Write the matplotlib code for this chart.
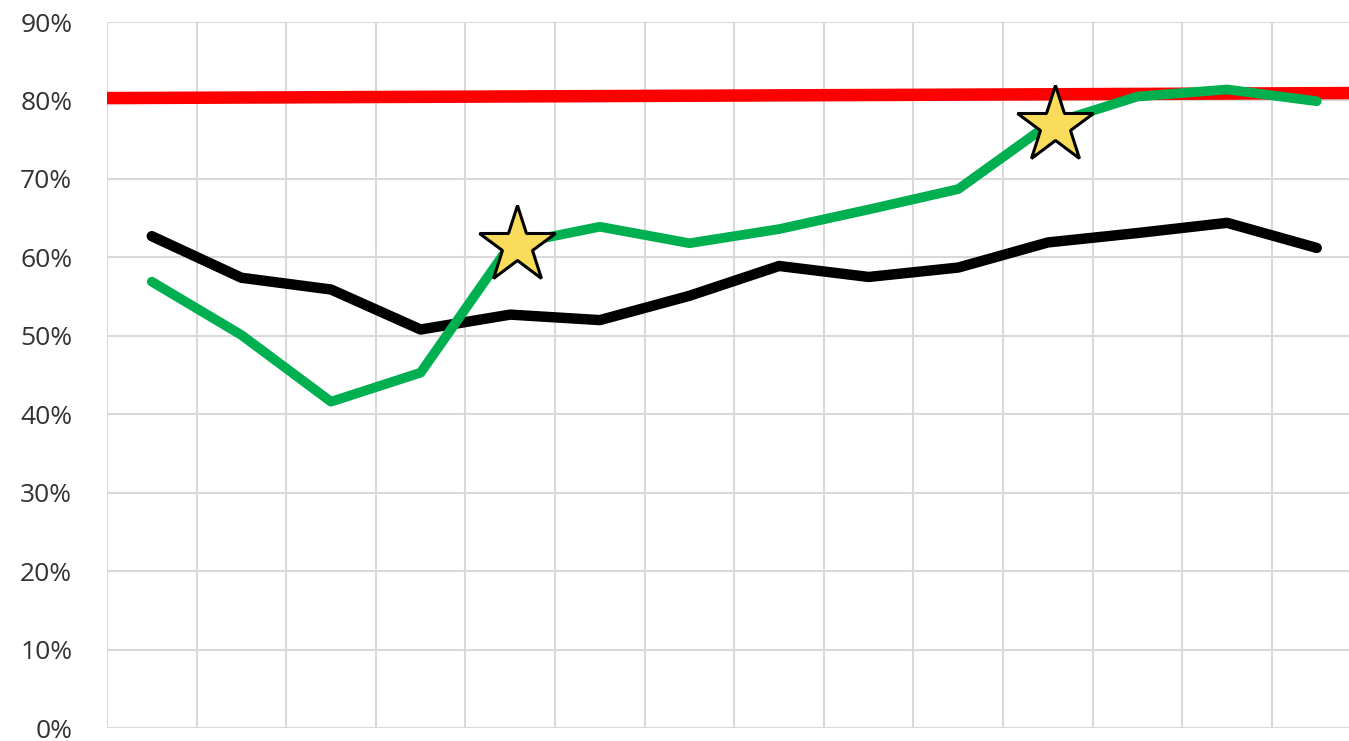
import matplotlib.pyplot as plt
from matplotlib.ticker import PercentFormatter

plt.rcParams['font.family'] = ['Open Sans', 'DejaVu Sans']

# values, in percent
periods = list(range(14))
black_series = [62.7, 57.4, 55.9, 50.8, 52.7, 52.0, 55.1, 58.9, 57.5, 58.7, 61.9, 63.1, 64.4, 61.2]
green_series = [56.9, 50.1, 41.6, 45.3, 61.6, 63.9, 61.8, 63.6, 66.1, 68.7, 76.9, 80.5, 81.4, 79.9]
target_ends = [80.3, 80.95]
star_idx = [4, 10]
y_ticks = [0, 10, 20, 30, 40, 50, 60, 70, 80, 90]

fig = plt.figure(figsize=(13.49, 7.41), dpi=100)
ax = fig.add_axes([0.0793, 0.0175, 0.930, 0.9528])

x_lo, x_hi = -0.5, len(periods) - 0.5
ax.plot([x_lo, x_hi], target_ends, color='#FF0000', lw=9, solid_capstyle='butt', zorder=3)
ax.plot(periods, black_series, color='black', lw=7.5, solid_capstyle='round', solid_joinstyle='round', zorder=4)
ax.plot(periods, green_series, color='#00B050', lw=7, solid_capstyle='round', solid_joinstyle='round', zorder=5)

ax.plot([periods[i] + 0.08 for i in star_idx], [green_series[i] for i in star_idx], linestyle='none',
        marker='*', markersize=58, markerfacecolor='#F9DC5C', markeredgecolor='black',
        markeredgewidth=2.2, zorder=6)

ax.set_xlim(x_lo, x_hi)
ax.set_ylim(0, 90)
ax.set_yticks(y_ticks)
ax.yaxis.set_major_formatter(PercentFormatter(decimals=0))
ax.set_xticks([i + 0.5 for i in range(-1, len(periods))])
ax.set_xticklabels([])
ax.tick_params(axis='both', length=0)
ax.tick_params(axis='y', labelsize=19, labelcolor='#333333', pad=25)
ax.grid(True, color='#D9D9D9', lw=1.5)
ax.set_axisbelow(True)
for s in ax.spines.values():
    s.set_visible(False)

fig.savefig('out.png', dpi=100)
